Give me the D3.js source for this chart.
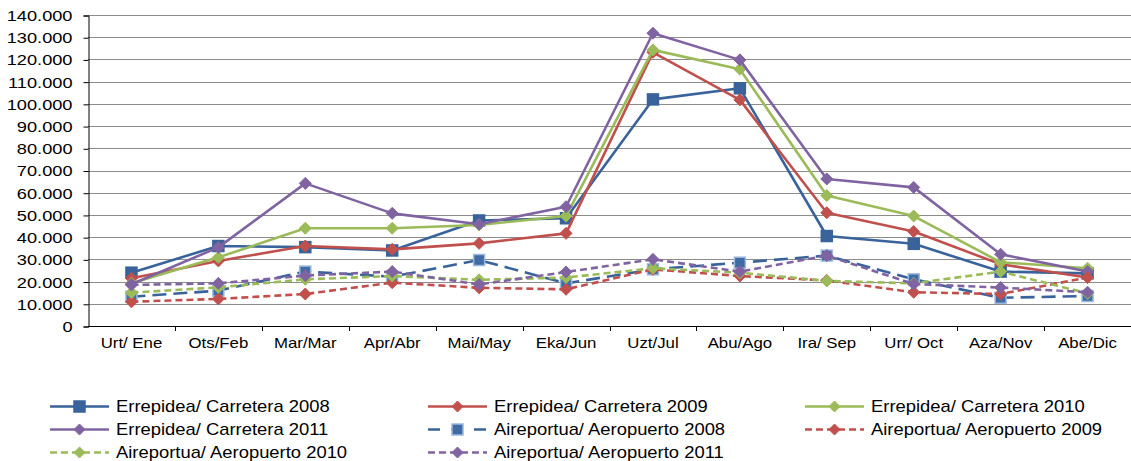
<!DOCTYPE html>
<html>
<head>
<meta charset="utf-8">
<script src="https://cdn.jsdelivr.net/npm/d3@7"></script>
<style>
  body { margin: 0; background: #fff; }
  svg text { font-family: "Liberation Sans", Arial, sans-serif; fill: #000; }
</style>
</head>
<body>
<svg class="line-chart" width="1131" height="461"></svg>
<script>
// Months (Basque / Spanish)
const months = ['Urt/ Ene', 'Ots/Feb', 'Mar/Mar', 'Apr/Abr', 'Mai/May', 'Eka/Jun',
                'Uzt/Jul', 'Abu/Ago', 'Ira/ Sep', 'Urr/ Oct', 'Aza/Nov', 'Abe/Dic'];

// Road (Errepidea / Carretera)
const carretera2008 = [24000, 36000, 35500, 34000, 47500, 48500, 102000, 107000, 40500, 37000, 24500, 23700];
const carretera2009 = [21500, 29300, 36000, 34500, 37200, 41700, 123200, 101800, 51000, 42500, 27800, 21800];
const carretera2010 = [19200, 30900, 44000, 44000, 45500, 49500, 124300, 115600, 58700, 49500, 28700, 26000];
const carretera2011 = [18800, 35400, 64200, 50700, 45800, 53700, 131800, 119800, 66200, 62400, 32300, 24500];

// Airport (Aireportua / Aeropuerto)
const aeropuerto2008 = [13200, 15900, 24500, 22200, 29700, 19200, 25500, 28500, 31700, 21000, 12700, 13500];
const aeropuerto2009 = [10900, 12200, 14400, 19500, 17200, 16500, 25500, 22500, 20500, 15200, 14400, 21800];
const aeropuerto2010 = [15000, 17400, 21000, 22500, 20800, 21800, 26000, 24000, 20300, 19200, 24500, 14700];
const aeropuerto2011 = [18500, 19200, 22700, 24500, 18700, 24300, 30000, 24500, 31700, 18900, 17300, 15200];

const yTicks = [0, 10000, 20000, 30000, 40000, 50000, 60000, 70000, 80000, 90000, 100000, 110000, 120000, 130000, 140000];

const series = [
  { name: 'Errepidea/ Carretera 2008', values: carretera2008, color: '#39639A', dash: null, marker: 'square', fill: '#39639A', edge: '#39639A' },
  { name: 'Errepidea/ Carretera 2009', values: carretera2009, color: '#C0504D', dash: null, marker: 'diamond', fill: '#C0504D', edge: '#C0504D' },
  { name: 'Errepidea/ Carretera 2010', values: carretera2010, color: '#9BBB59', dash: null, marker: 'diamond', fill: '#9BBB59', edge: '#9BBB59' },
  { name: 'Errepidea/ Carretera 2011', values: carretera2011, color: '#8064A2', dash: null, marker: 'diamond', fill: '#8064A2', edge: '#8064A2' },
  { name: 'Aireportua/ Aeropuerto 2008', values: aeropuerto2008, color: '#39639A', dash: '14,7', marker: 'square', fill: '#3F6CA6', edge: '#9DB8DC' },
  { name: 'Aireportua/ Aeropuerto 2009', values: aeropuerto2009, color: '#C0504D', dash: '7,4', marker: 'diamond', fill: '#C0504D', edge: '#C0504D' },
  { name: 'Aireportua/ Aeropuerto 2010', values: aeropuerto2010, color: '#9BBB59', dash: '7,4', marker: 'diamond', fill: '#9BBB59', edge: '#9BBB59' },
  { name: 'Aireportua/ Aeropuerto 2011', values: aeropuerto2011, color: '#8064A2', dash: '7,4', marker: 'diamond', fill: '#8064A2', edge: '#8064A2' }
];

const svg = d3.select('.line-chart');

// Plot area
const plotLeft = 88, plotRight = 1131, plotTop = 15, plotBottom = 326;

const xScale = d3.scaleBand()
    .domain(months)
    .range([plotLeft, plotRight])
    .padding(0);

const yScale = d3.scaleLinear()
    .domain([0, 140000])
    .range([plotBottom, plotTop]);

const fmt = d3.formatLocale({ decimal: ',', thousands: '.', grouping: [3], currency: ['', '€'] }).format(',d');

// Gridlines
svg.append('g')
  .selectAll('line')
  .data(yTicks.slice(1))
  .join('line')
    .attr('x1', plotLeft)
    .attr('x2', plotRight)
    .attr('y1', d => Math.round(yScale(d)) + 0.5)
    .attr('y2', d => Math.round(yScale(d)) + 0.5)
    .attr('stroke', '#8C8C8C')
    .attr('stroke-width', 1);

// Y axis
const yAxis = svg.append('g')
    .attr('transform', `translate(${plotLeft + 0.5}, 0.5)`)
    .call(d3.axisLeft(yScale).tickValues(yTicks).tickFormat(fmt).tickSize(5).tickPadding(0));
yAxis.select('.domain').attr('stroke', '#000');
yAxis.selectAll('.tick line').attr('stroke', '#000');
yAxis.selectAll('.tick text')
    .attr('font-size', 13.8)
    .attr('font-family', '"Liberation Sans", Arial, sans-serif')
    .attr('transform', 'scale(1.32,1)')
    .attr('x', -16 / 1.32)
    .attr('dy', '0.36em');

// X axis
const xAxis = svg.append('g')
    .attr('transform', `translate(0, ${plotBottom + 0.5})`)
    .call(d3.axisBottom(xScale).tickSize(0).tickSizeOuter(0));
xAxis.select('.domain').attr('stroke', '#000').attr('d', `M${plotLeft},0H${plotRight}`);
xAxis.selectAll('.tick text')
    .attr('font-size', 14)
    .attr('font-family', '"Liberation Sans", Arial, sans-serif')
    .attr('transform', 'scale(1.2,1)')
    .attr('y', 21.5)
    .attr('dy', 0);

// Category boundary ticks
svg.append('g')
  .selectAll('line')
  .data(months)
  .join('line')
    .attr('x1', d => Math.round(xScale(d) + xScale.bandwidth()) + 0.5)
    .attr('x2', d => Math.round(xScale(d) + xScale.bandwidth()) + 0.5)
    .attr('y1', plotBottom)
    .attr('y2', plotBottom + 5)
    .attr('stroke', '#000');

// Marker drawing helper
function drawMarker(sel, s, size) {
  if (s.marker === 'square') {
    sel.append('rect')
      .attr('x', -size / 2).attr('y', -size / 2)
      .attr('width', size).attr('height', size)
      .attr('fill', s.fill)
      .attr('stroke', s.edge)
      .attr('stroke-width', 1.5);
  } else {
    const r = size / 2 + 1;
    sel.append('path')
      .attr('d', `M0,${-r}L${r},0L0,${r}L${-r},0Z`)
      .attr('fill', s.fill)
      .attr('stroke', s.edge)
      .attr('stroke-width', 1);
  }
}

const line = d3.line()
    .x((d, i) => xScale(months[i]) + xScale.bandwidth() / 2)
    .y(d => yScale(d));

// Series lines + markers
series.forEach(s => {
  const g = svg.append('g');
  g.append('path')
    .datum(s.values)
    .attr('fill', 'none')
    .attr('stroke', s.color)
    .attr('stroke-width', 2.6)
    .attr('stroke-dasharray', s.dash)
    .attr('stroke-linejoin', 'round')
    .attr('d', line);
  s.values.forEach((v, i) => {
    const m = g.append('g')
      .attr('transform', `translate(${xScale(months[i]) + xScale.bandwidth() / 2}, ${yScale(v)})`);
    drawMarker(m, s, s.marker === 'square' ? 11 : 10);
  });
});

// Legend
const legendCols = [50, 428, 805];
const legendRows = [406.5, 429.5, 452.5];
series.forEach((s, i) => {
  const col = i % 3, row = Math.floor(i / 3);
  const g = svg.append('g')
    .attr('transform', `translate(${legendCols[col]}, ${legendRows[row]})`);
  g.append('line')
    .attr('x1', 0).attr('x2', 59)
    .attr('y1', 0).attr('y2', 0)
    .attr('stroke', s.color)
    .attr('stroke-width', 2.6)
    .attr('stroke-dasharray', s.dash ? (s.marker === 'square' ? '12,11' : '7,4') : null);
  const m = g.append('g').attr('transform', 'translate(29.5,0)');
  drawMarker(m, s, s.marker === 'square' ? 11 : 9);
  g.append('g')
    .attr('transform', 'translate(66, 5.8) scale(1.15,1)')
    .append('text')
    .attr('font-size', 16)
    .text(s.name);
});
</script>
</body>
</html>
